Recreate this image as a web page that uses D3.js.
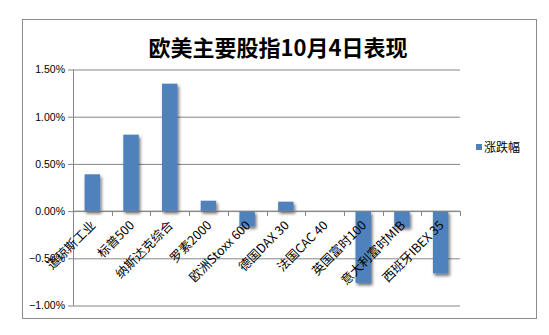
<!DOCTYPE html>
<html>
<head>
<meta charset="utf-8">
<script src="https://cdn.jsdelivr.net/npm/d3@7"></script>
<style>
  body { margin: 0; background: #fff; }
  svg { display: block; }
</style>
</head>
<body>
<div id="chart"></div>
<script>
// chart data
var categories = ["道琼斯工业", "标普500", "纳斯达克综合", "罗素2000", "欧洲Stoxx 600",
                  "德国DAX 30", "法国CAC 40", "英国富时100", "意大利富时MIB", "西班牙IBEX 35"]
var values = [0.39, 0.81, 1.35, 0.11, -0.16, 0.10, 0.00, -0.76, -0.17, -0.66]
var yTicks = [-1.0, -0.5, 0.0, 0.5, 1.0, 1.5]
var seriesName = "涨跌幅"
var title = "欧美主要股指10月4日表现"

var width = 549,
    height = 335

var plot = {left: 73, right: 460, top: 69.5, bottom: 305.5}

var svg = d3.select("#chart")
  .append("svg")
    .attr("width", width)
    .attr("height", height)

// drop shadow for the bars
var defs = svg.append("defs")
defs.append("filter")
    .attr("id", "shadow")
    .attr("x", "-50%").attr("y", "-50%")
    .attr("width", "200%").attr("height", "200%")
  .append("feDropShadow")
    .attr("dx", 1.5).attr("dy", 2.5)
    .attr("stdDeviation", 1.5)
    .attr("flood-color", "#000")
    .attr("flood-opacity", 0.55)

// outer frame
svg.append("rect")
    .attr("x", 22.5).attr("y", 19.5)
    .attr("width", 514).attr("height", 299)
    .attr("fill", "#fff")
    .attr("stroke", "#8c8c8c")
    .attr("stroke-width", 1)

svg.append("text")
    .attr("x", 278)
    .attr("y", 56)
    .attr("text-anchor", "middle")
    .style("font-family", "'Noto Sans CJK SC', sans-serif")
    .style("font-weight", "bold")
    .style("font-size", "22px")
    .attr("fill", "#000")
    .text(title)

var x = d3.scaleBand()
  .domain(categories)
  .range([plot.left, plot.right])
  .paddingInner(0.6)
  .paddingOuter(0.3)

var xBand = d3.scaleBand()
  .domain(categories)
  .range([plot.left, plot.right])

var y = d3.scaleLinear()
  .domain([-1.0, 1.5])
  .range([plot.bottom, plot.top])

// gridlines + y axis
var yAxis = d3.axisLeft(y)
  .tickValues(yTicks)
  .tickSize(-(plot.right - plot.left))
  .tickPadding(8)
  .tickFormat(function(d) { return d3.format(".2f")(d) + "%" })

var gy = svg.append("g")
    .attr("transform", "translate(" + plot.left + ",0)")
    .call(yAxis)
gy.select(".domain").remove()
gy.selectAll(".tick line").attr("stroke", "#868686").attr("x1", -5)
gy.selectAll(".tick text")
    .attr("fill", "#000")
    .style("font-family", "'Liberation Sans', Arial, sans-serif")
    .style("font-size", "10.5px")

svg.append("line")
    .attr("x1", plot.left + 0.5).attr("x2", plot.left + 0.5)
    .attr("y1", plot.top).attr("y2", plot.bottom)
    .attr("stroke", "#868686")

// bars
svg.selectAll("rect.bar")
  .data(values)
  .enter()
  .append("rect")
    .attr("class", "bar")
    .attr("x", function(d, i) { return x(categories[i]) })
    .attr("width", x.bandwidth())
    .attr("y", function(d) { return y(Math.max(0, d)) })
    .attr("height", function(d) { return Math.abs(y(d) - y(0)) })
    .attr("fill", "#4f81bd")
    .attr("filter", "url(#shadow)")

// x axis at zero
var gx = svg.append("g")
    .attr("transform", "translate(0," + y(0) + ")")
gx.append("line")
    .attr("x1", plot.left).attr("x2", plot.right)
    .attr("stroke", "#868686")
gx.selectAll("line.tk")
  .data(categories.concat([null]))
  .enter()
  .append("line")
    .attr("class", "tk")
    .attr("x1", function(d, i) { return Math.round(plot.left + i * xBand.bandwidth()) + 0.5 })
    .attr("x2", function(d, i) { return Math.round(plot.left + i * xBand.bandwidth()) + 0.5 })
    .attr("y1", 0).attr("y2", 5)
    .attr("stroke", "#868686")

// rotated category labels
svg.selectAll("text.cat")
  .data(categories)
  .enter()
  .append("text")
    .attr("class", "cat")
    .attr("text-anchor", "end")
    .attr("transform", function(d) {
      var cx = xBand(d) + xBand.bandwidth() / 2 + 4
      return "translate(" + cx + "," + (y(0) + 15) + ") rotate(-45)"
    })
    .style("font-family", "'Noto Sans CJK SC', sans-serif")
    .style("font-size", "12.5px")
    .attr("fill", "#000")
    .text(function(d) { return d })

// legend
svg.append("rect")
    .attr("x", 476).attr("y", 144)
    .attr("width", 6).attr("height", 6)
    .attr("fill", "#4f81bd")
svg.append("text")
    .attr("x", 484).attr("y", 151.5)
    .style("font-family", "'Noto Sans CJK SC', sans-serif")
    .style("font-size", "12px")
    .attr("fill", "#000")
    .text(seriesName)
</script>
</body>
</html>
